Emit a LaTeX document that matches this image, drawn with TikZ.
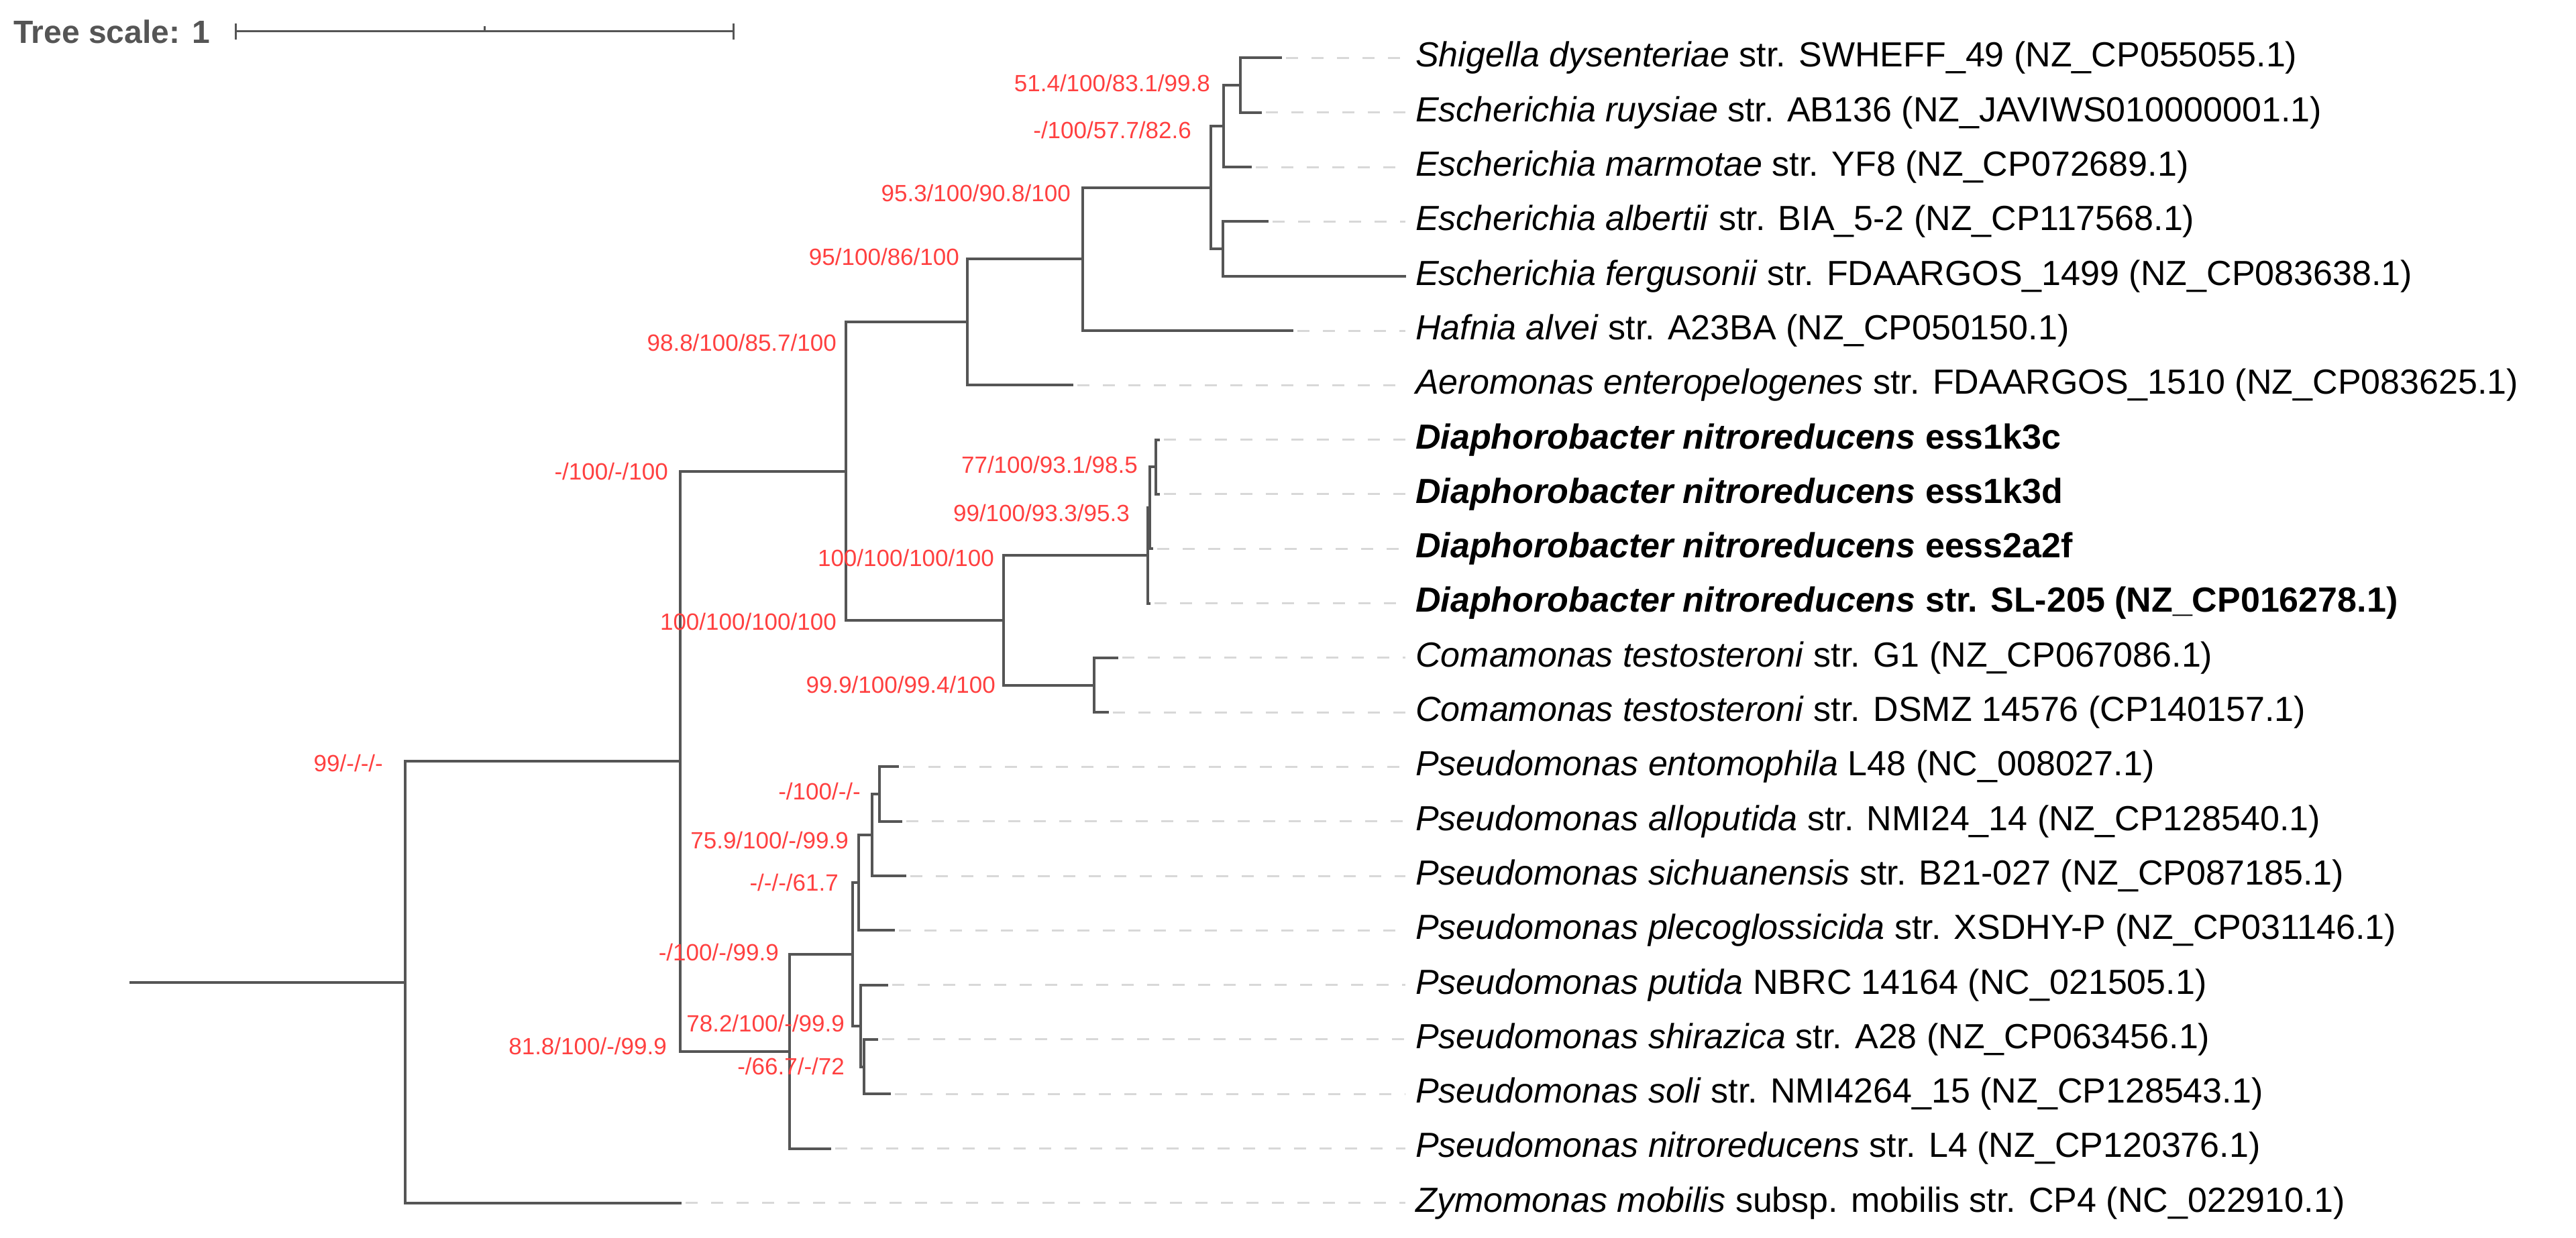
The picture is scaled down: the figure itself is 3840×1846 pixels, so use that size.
\documentclass[tikz,border=0pt]{standalone}
\usepackage{fontspec}
\setmainfont{Liberation Sans}
\definecolor{br}{HTML}{555555}
\definecolor{bs}{HTML}{FF4040}
\definecolor{dl}{HTML}{D8D8D8}
\begin{document}
\begin{tikzpicture}[x=1pt,y=-1pt,
  br/.style={draw=br,line width=4pt},
  guide/.style={draw=dl,line width=3pt,dash pattern=on 18pt off 20pt},
  bs/.style={anchor=east,inner sep=0pt,text=bs,font=\fontsize{35}{40}\selectfont},
  leaf/.style={anchor=west,inner sep=0pt,font=\fontsize{52}{56}\selectfont},
  bleaf/.style={leaf,font=\fontsize{52}{56}\selectfont\bfseries}]
\useasboundingbox (0,0) rectangle (3840,1846);
% scale
\node[anchor=west,inner sep=0pt,text=br,font=\fontsize{48}{52}\selectfont\bfseries] (ts) at (20,47) {Tree scale: 1};
\coordinate (s1) at (351,47); \coordinate (s2) at (1093,47); \coordinate (s3) at (722,47);
\draw[br,line width=3pt] (s1) -- (s2);
\draw[br,line width=3pt] ([yshift=-12pt]s1) -- ([yshift=12pt]s1);
\draw[br,line width=3pt] ([yshift=-12pt]s2) -- ([yshift=12pt]s2);
\draw[br,line width=3pt] (s3) -- ([yshift=8pt]s3);
% leaves tips
\def\Y#1{\fpeval{86.5+81.3*#1}}
\coordinate (t0) at (1909,\Y{0});
\coordinate (t1) at (1879,\Y{1});
\coordinate (t2) at (1864,\Y{2});
\coordinate (t3) at (1889,\Y{3});
\coordinate (t4) at (2094,\Y{4});
\coordinate (t5) at (1926,\Y{5});
\coordinate (t6) at (1598,\Y{6});
\coordinate (t7) at (1727,\Y{7});
\coordinate (t8) at (1727,\Y{8});
\coordinate (t9) at (1717,\Y{9});
\coordinate (t10) at (1713,\Y{10});
\coordinate (t11) at (1665,\Y{11});
\coordinate (t12) at (1651,\Y{12});
\coordinate (t13) at (1338,\Y{13});
\coordinate (t14) at (1343,\Y{14});
\coordinate (t15) at (1349,\Y{15});
\coordinate (t16) at (1332,\Y{16});
\coordinate (t17) at (1322,\Y{17});
\coordinate (t18) at (1307,\Y{18});
\coordinate (t19) at (1326,\Y{19});
\coordinate (t20) at (1237,\Y{20});
\coordinate (t21) at (1014,\Y{21});
% dashed guides
\foreach \i in {0,1,2,3,5,6,7,8,9,10,11,12,13,14,15,16,17,18,19,20,21}
  \draw[guide] ([xshift=8pt]t\i) -- (2095,\Y{\i});
% leaf labels
\node[leaf] (l0) at (2110,\Y{0}) {\textit{Shigella dysenteriae} str. SWHEFF\_49 (NZ\_CP055055.1)};
\node[leaf] (l1) at (2110,\Y{1}) {\textit{Escherichia ruysiae} str. AB136 (NZ\_JAVIWS010000001.1)};
\node[leaf] (l2) at (2110,\Y{2}) {\textit{Escherichia marmotae} str. YF8 (NZ\_CP072689.1)};
\node[leaf] (l3) at (2110,\Y{3}) {\textit{Escherichia albertii} str. BIA\_5-2 (NZ\_CP117568.1)};
\node[leaf] (l4) at (2110,\Y{4}) {\textit{Escherichia fergusonii} str. FDAARGOS\_1499 (NZ\_CP083638.1)};
\node[leaf] (l5) at (2110,\Y{5}) {\textit{Hafnia alvei} str. A23BA (NZ\_CP050150.1)};
\node[leaf] (l6) at (2110,\Y{6}) {\textit{Aeromonas enteropelogenes} str. FDAARGOS\_1510 (NZ\_CP083625.1)};
\node[bleaf] (l7) at (2110,\Y{7}) {\textit{Diaphorobacter nitroreducens} ess1k3c};
\node[bleaf] (l8) at (2110,\Y{8}) {\textit{Diaphorobacter nitroreducens} ess1k3d};
\node[bleaf] (l9) at (2110,\Y{9}) {\textit{Diaphorobacter nitroreducens} eess2a2f};
\node[bleaf] (l10) at (2110,\Y{10}) {\textit{Diaphorobacter nitroreducens} str. SL-205 (NZ\_CP016278.1)};
\node[leaf] (l11) at (2110,\Y{11}) {\textit{Comamonas testosteroni} str. G1 (NZ\_CP067086.1)};
\node[leaf] (l12) at (2110,\Y{12}) {\textit{Comamonas testosteroni} str. DSMZ 14576 (CP140157.1)};
\node[leaf] (l13) at (2110,\Y{13}) {\textit{Pseudomonas entomophila} L48 (NC\_008027.1)};
\node[leaf] (l14) at (2110,\Y{14}) {\textit{Pseudomonas alloputida} str. NMI24\_14 (NZ\_CP128540.1)};
\node[leaf] (l15) at (2110,\Y{15}) {\textit{Pseudomonas sichuanensis} str. B21-027 (NZ\_CP087185.1)};
\node[leaf] (l16) at (2110,\Y{16}) {\textit{Pseudomonas plecoglossicida} str. XSDHY-P (NZ\_CP031146.1)};
\node[leaf] (l17) at (2110,\Y{17}) {\textit{Pseudomonas putida} NBRC 14164 (NC\_021505.1)};
\node[leaf] (l18) at (2110,\Y{18}) {\textit{Pseudomonas shirazica} str. A28 (NZ\_CP063456.1)};
\node[leaf] (l19) at (2110,\Y{19}) {\textit{Pseudomonas soli} str. NMI4264\_15 (NZ\_CP128543.1)};
\node[leaf] (l20) at (2110,\Y{20}) {\textit{Pseudomonas nitroreducens} str. L4 (NZ\_CP120376.1)};
\node[leaf] (l21) at (2110,\Y{21}) {\textit{Zymomonas mobilis} subsp. mobilis str. CP4 (NC\_022910.1)};
% internal nodes
\coordinate (A) at (1849,127.2);
\coordinate (B) at (1824,188.1);
\coordinate (C) at (1823,371);
\coordinate (D) at (1805,279.6);
\coordinate (E) at (1614,386.3);
\coordinate (F) at (1442,480.3);
\coordinate (S1) at (1723,696.3);
\coordinate (S2) at (1714,757.2);
\coordinate (S3) at (1711,828.4);
\coordinate (Co) at (1631,1021.5);
\coordinate (H) at (1496,925);
\coordinate (G) at (1261,702.6);
\coordinate (O) at (1311,1184);
\coordinate (N) at (1300,1245);
\coordinate (M) at (1280,1316.2);
\coordinate (Q) at (1288,1590.6);
\coordinate (P) at (1283,1529.6);
\coordinate (L) at (1271,1422.9);
\coordinate (K) at (1177,1567.7);
\coordinate (J) at (1014,1135.2);
\coordinate (R) at (604,1464.5);
\coordinate (st) at (193,1464.5);
% branches: parent / child1 / child2
\foreach \p/\a/\b in {A/t0/t1, B/A/t2, C/t3/t4, D/B/C, E/D/t5, F/E/t6,
  S1/t7/t8, S2/S1/t9, S3/S2/t10, Co/t11/t12, H/S3/Co, G/F/H,
  O/t13/t14, N/O/t15, M/N/t16, Q/t18/t19, P/t17/Q, L/M/P, K/L/t20, J/G/K, R/J/t21}
  \draw[br,line cap=rect] (\a) -- (\p|-\a) -- (\p|-\b) -- (\b);
\draw[br] (st) -- (R);
% support values
\node[bs] (b1) at (1804,124) {51.4/100/83.1/99.8};
\node[bs] (b2) at (1776,194) {-/100/57.7/82.6};
\node[bs] (b3) at (1596,288) {95.3/100/90.8/100};
\node[bs] (b4) at (1430,383) {95/100/86/100};
\node[bs] (b5) at (1247,511) {98.8/100/85.7/100};
\node[bs] (b6) at (996,703) {-/100/-/100};
\node[bs] (b7) at (1696,693) {77/100/93.1/98.5};
\node[bs] (b8) at (1684,765) {99/100/93.3/95.3};
\node[bs] (b9) at (1482,832) {100/100/100/100};
\node[bs] (b10) at (1247,927) {100/100/100/100};
\node[bs] (b11) at (1484,1021) {99.9/100/99.4/100};
\node[bs] (b12) at (571,1138) {99/-/-/-};
\node[bs] (b13) at (1283,1180) {-/100/-/-};
\node[bs] (b14) at (1265,1253) {75.9/100/-/99.9};
\node[bs] (b15) at (1250,1316) {-/-/-/61.7};
\node[bs] (b16) at (1161,1420) {-/100/-/99.9};
\node[bs] (b17) at (1259,1526) {78.2/100/-/99.9};
\node[bs] (b18) at (994,1560) {81.8/100/-/99.9};
\node[bs] (b19) at (1259,1590) {-/66.7/-/72};
\end{tikzpicture}
\end{document}
